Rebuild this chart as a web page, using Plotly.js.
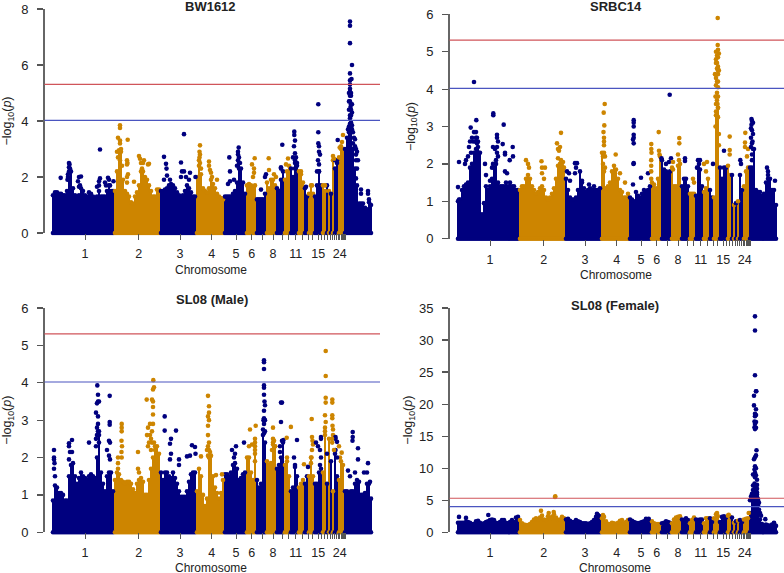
<!DOCTYPE html>
<html><head><meta charset="utf-8">
<script src="https://cdn.plot.ly/plotly-3.0.1.min.js"></script>
<style>html,body{margin:0;padding:0;background:#fff}#c{width:784px;height:573px}</style>
</head><body><div id="c"></div>
<script>
const panelTitles = ["BW1612","SRBC14","SL08 (Male)","SL08 (Female)"];
const yMax = [8,6,6,35];
const yTicks = [[0,2,4,6,8],[0,1,2,3,4,5,6],[0,1,2,3,4,5,6],[0,5,10,15,20,25,30,35]];
const labelledChromTicks = [33,86.7,128,159.7,184,199.7,221,243.7,266.3,287.7];
const labelledChromText = ["1","2","3","4","5","6","8","11","15","24"];
const otherChromTicks = [210.7,230,236.7,250,256,260.7,269.5,272.5,275.5,278,280.5,282.5,284,286,289,290,291,292,293];
const bandEnds = [62,109,144,173,194,204,215,225,232,239,246,253,257,262,270,274,277,279,280,283,286,293,320];
const suggestive = 4.02, genomewide = 5.31;

const bwSolid = [
1.35,1.45,1.45,1.4,1.4,1.35,1.35,1.5,1.9,2.2,1.6,1.35,1.3,1.35,1.6,1.5,1.35,1.3,1.45,1.4,1.3,1.25,1.3,1.5,1.3,1.3,1.3,1.5,1.7,1.5,1.5,
1.5,2.2,2.9,3.0,1.9,1.5,1.4,1.3,1.1,1.05,1.3,1.45,1.7,2.2,2.2,2.0,1.9,1.7,1.5,1.3,1.3,1.55,1.55,1.5,
1.5,1.55,1.6,1.7,1.75,1.7,1.6,1.45,1.35,1.3,1.35,1.5,1.7,1.6,1.45,1.3,1.3,
2.0,2.6,2.1,1.6,1.5,1.45,1.6,1.9,1.75,1.6,1.4,1.3,1.25,1.2,1.3,
1.3,1.3,1.3,1.4,1.5,1.8,2.5,2.3,1.8,1.4,
1.7,1.75,1.7,1.6,1.7,
1.2,1.2,1.2,1.2,1.4,1.8,
1.6,1.9,1.9,1.7,1.6,
1.5,1.9,2.2,1.9,
2.2,2.4,2.3,
2.0,2.6,2.4,2.2,
2.1,1.8,1.6,
1.3,1.4,
1.7,1.4,
1.3,1.7,2.2,1.7,
1.7,1.5,1.7,1.5,1.4,2.6,2.3,2.6,2.7,3.0,3.0,
3.0,3.4,3.6,3.6,3.0,2.3,1.7,1.05,1.05,1.05,0.9,0.85,1.1,1.0];
const bwSpikes = [[17,2.5],[17.5,2.45],[17,2.35],[18,2.3],[17,2.2],[16,2.1],[8.7,1.97],[16,2.0],[15.5,1.9],[27,2.0],[29,2.02],[26,1.85],[28,1.7],[27,1.65],[48,2.98],[48,1.95],[47,1.85],[47,1.7],[45,1.65],[53,1.8],[56,1.97],[57,1.9],[54,1.7],[58,1.7],[61.5,1.85],
[68,3.85],[68,3.75],[66,3.4],[68,3.3],[68,3.2],[65,2.9],[75.7,3.33],[75,2.6],[75.5,2.5],[75,2.45],[75,2.0],[76,2.1],[75,1.8],[82,1.83],[87,2.75],[88,2.65],[89,2.5],[92,2.6],[91,2.5],[90,2.3],[97,2.47],[96,2.45],
[112,2.72],[114,2.47],[114.5,2.3],[115,2.05],[112,1.9],[118,1.9],[132,3.53],[129,2.52],[130,2.2],[132,2.2],[129,2.0],[134,2.0],[138,2.15],[137,1.9],[143.5,2.0],
[148,3.13],[147.5,2.9],[148,2.8],[147.5,2.7],[157,2.55],[157,2.4],[158,2.25],[159,2.15],[160,2.0],[165,1.9],
[177.3,2.7],[178,2.2],[178,1.85],[176,1.75],[182,1.9],[186.7,3.05],[186,2.9],[186,2.8],[187,2.7],
[202.7,2.67],[200,2.45],[202,2.3],[202,2.15],[201,2.0],[209,1.55],[214,2.1],[213,2.0],
[216.7,2.67],[217,2.25],[222,2.1],[224,2.0],[230.3,3.15],[229,2.35],[229,2.3],[236,2.66],[234,2.45],
[242.3,3.62],[242.3,3.5],[243,3.3],[242,3.1],[243,2.85],[244,2.7],[245,2.5],[249,2.2],[254,1.65],[260,1.7],
[266.3,4.6],[266.3,3.6],[266.3,3.2],[267,3.1],[268,2.8],[267,2.9],[266,2.6],[267,2.45],[273,1.7],
[285.7,3.32],[287.7,3.05],[289,3.1],[291,3.5],[290,3.25],[283,2.6],[281,2.75],[282,2.65],[285,2.5],
[298,7.55],[298,7.4],[298,6.78],[300,6.0],[298,5.7],[299.5,5.5],[298,5.45],[298,5.3],[298,5.15],[298,5.05],[298,4.9],[298,4.7],[299,4.6],[298.5,4.5],[299,4.4],[300,4.3],[298,4.2],[298,4.1],[299,3.95],[300,3.85],[299,3.75],[301,3.6],[303,3.35],[304,3.0],[305,2.9],[304,2.6],[305,2.3],[304,1.95],[309,1.55],[309,1.4],[316,1.5],[316,1.4],[317,1.2]];
const bwStacks = [[67,2.95],[66,2.7],[69,2.9],[68,2.6],[70,2.4],[147,2.4],[149,2.3],[148,2.5],[186,2.6],[185,2.4],[188,2.5],[187,2.3],[241,2.7],[243,2.5],[243,2.3],[267,2.2],[265,2.2],[297,3.8],[298,3.9],[300,3.7],[297,4.4],[299,4.2],[299,5.0],[297,5.0],[299,4.9],[297,4.7],[300,4.6],[296,3.7],[302,3.4],[301,3.2],[303,3.1],[304,2.8],[306,2.6]];

const srbcSolid = [
1.0,1.05,1.3,1.4,1.45,1.5,1.9,2.0,2.3,2.4,2.45,2.3,0.65,0.95,1.4,1.3,1.4,1.6,1.9,2.0,1.5,1.4,1.4,1.4,1.5,1.4,1.5,1.4,1.4,1.3,1.3,
1.3,1.4,1.4,1.6,1.7,1.6,1.4,1.3,1.2,1.25,1.35,1.4,1.3,1.1,1.05,1.1,1.2,1.35,1.6,1.95,2.0,1.95,1.9,1.6,
1.3,1.1,1.05,1.05,1.1,1.3,1.8,1.5,1.35,1.25,1.3,1.35,1.3,1.4,1.3,1.3,1.35,
2.3,1.8,1.35,1.4,1.5,1.8,1.95,1.85,1.6,1.3,1.25,1.1,1.1,1.2,1.1,
1.05,1.0,1.25,1.15,1.1,1.2,1.3,1.25,1.3,1.4,
1.5,1.45,1.35,1.6,2.2,
2.1,1.85,1.8,1.75,1.8,1.9,
1.4,1.4,1.95,2.0,1.4,
1.6,1.6,1.4,1.2,
1.2,1.2,1.15,
1.9,1.85,1.4,1.25,
1.35,1.6,1.3,
1.1,1.1,
3.3,3.5,
1.9,1.6,1.9,1.9,
1.95,1.7,1.7,0.9,0.95,1.0,1.7,1.3,1.4,1.8,1.9,
1.9,1.9,2.4,1.3,1.25,1.25,1.15,1.2,1.5,1.6,1.6,1.3,1.3,0.9];
const srbcSpikes = [[2,2.05],[1,1.38],[2,1.05],[17,4.19],[19.3,3.17],[13.7,2.97],[17,2.85],[19,2.85],[15,2.7],[13,2.6],[19,2.7],[20,2.55],[12,2.45],[11,2.2],[9,2.1],[8,2.0],
[36.3,3.35],[36.3,3.3],[40,2.78],[40,2.7],[41,2.6],[36,2.45],[40,2.45],[38,2.4],[40,2.3],[45.7,2.53],[46.7,3.05],[48,2.3],[48,2.25],[52.7,2.1],[55.7,2.45],[56,2.2],[48,1.8],[50,1.75],[28,2.0],[29,1.7],[33,1.55],[36,2.0],[35,1.9],
[69,2.1],[71,2.0],[72,1.9],[84.5,2.07],[85,1.9],[88,1.9],[85,1.75],[87,1.6],[100,2.55],[104,2.83],[103,2.45],[102,2.35],[101,2.4],[106,2.05],[110,1.8],
[112,1.75],[113,1.55],[118,2.02],[120,2.02],[119,1.9],[118,1.75],[125,1.55],[132,1.45],
[147.7,3.6],[146.7,3.37],[147.3,3.03],[146.5,2.85],[147,2.7],[147,2.6],[147,2.5],[158.7,2.25],[163,1.75],[168,1.5],
[176.7,3.17],[176.7,3.1],[176.7,3.0],[176.7,2.78],[176.7,2.7],[176,2.65],[176.7,2.55],[176.7,2.02],[176.5,2.0],[176,1.45],[184,1.63],[191,1.75],
[194.3,2.53],[194.3,2.4],[194.5,2.3],[194.2,2.1],[194.2,1.95],[194.2,1.8],[194.2,1.6],[201.7,2.85],[202,2.35],[202.5,2.25],
[212.7,3.85],[204.5,2.15],[214,2.15],[212,2.05],[209,2.0],[222.3,2.69],[222.3,2.55],[221,2.25],[222,2.1],[216,2.05],[216,1.85],[228,2.15],[228,2.08],[236,1.6],[237,1.5],[240,1.9],[241,2.1],[242,2.0],[243,2.1],[247,2.0],[250,2.05],[249,1.8],
[260.7,5.9],[260.7,5.18],[261,5.05],[261.9,4.95],[261,4.85],[259,4.8],[259,4.7],[260,4.55],[261.9,4.5],[261,4.4],[259,4.3],[260,4.2],[261,4.05],[260,3.9],[260,3.7],[261,3.5],[261.9,2.8],[261.9,2.5],
[267,2.35],[272.7,2.73],[272.7,2.37],[272.7,2.25],[256,2.0],[283.3,2.1],[284,2.0],[288.3,2.83],[288,2.57],[288,2.45],[291,2.4],[290,2.2],
[294.5,3.2],[295,3.15],[294.5,3.05],[295,2.9],[294,2.7],[295,2.55],[294,2.45],[295,2.25],[295,2.1],[310,1.9],[311,1.8],[311,1.7],[318,1.55]];
const srbcStacks = [[259,5.0],[260,4.9],[260,4.7],[261,4.6],[261,4.5],[258,4.4],[259,4.1],[261,4.2],[261,3.8],[259,3.6],[258.5,3.8],[260.5,3.6],[259,3.4],[261,3.25],[258.5,3.0],[260,3.3],[147,2.3],[148,2.2],[146,2.2],[146,2.0],[148,1.9],[294,2.95],[296,3.1],[296,2.8],[295.5,2.6],[296,2.4],[14,2.3],[16,2.6],[18,2.6],[20,2.7],[21,2.6],[22,2.3],[39,2.1],[41,2.2],[101,2.15],[104,2.1]];

const maleSolid = [
0.85,1.25,1.2,1.05,1.05,1.0,0.85,0.85,1.5,1.8,1.85,1.5,1.3,1.45,1.6,1.5,1.45,1.4,1.5,1.55,1.5,1.45,2.0,2.6,1.6,1.3,1.1,1.5,1.6,1.6,1.1,
1.4,1.6,1.55,1.4,1.35,1.3,1.35,1.35,1.3,1.15,1.05,1.3,1.4,1.45,1.35,1.0,1.0,1.4,1.7,2.0,2.2,2.3,2.1,1.6,
1.4,1.6,1.6,1.5,1.45,1.6,1.45,1.3,1.1,0.95,0.95,0.95,1.1,1.35,1.55,1.6,1.6,
1.1,1.7,1.5,1.0,0.7,0.9,2.0,2.05,1.5,1.2,1.05,0.9,1.05,1.4,1.55,
1.55,1.5,1.6,1.8,1.85,1.7,1.4,1.45,1.55,1.6,
2.0,2.0,1.6,1.4,2.2,
1.4,1.2,1.3,2.6,2.4,1.9,
1.8,1.85,2.4,2.3,1.7,
1.8,2.0,2.4,1.8,
1.9,1.5,1.1,
1.2,1.75,1.5,1.2,
1.3,1.4,1.3,
1.5,1.5,
2.0,1.5,
1.3,1.3,1.6,1.7,
1.6,2.7,1.3,2.5,1.9,1.1,2.1,1.5,1.4,1.9,1.8,
1.1,1.1,1.05,1.1,1.1,1.3,1.4,1.35,1.0,1.0,1.05,1.3,1.3,0.9];
const maleSpikes = [[2,2.2],[2,2.0],[2,1.95],[2.5,1.85],[2,1.7],[3,1.5],[17,2.38],[17,2.3],[20,2.47],[18,2.15],[20,2.15],[17,1.95],[37,2.4],
[45.3,3.93],[46,3.68],[46,3.5],[45,3.45],[47,3.5],[44,3.2],[46,3.1],[46,2.9],[45,2.8],[46,2.7],[46,2.6],[57.7,3.65],[57.7,2.95],[57.7,2.88],[57,2.45],[58,2.4],[55,2.2],[57,2.05],[58,1.95],
[69.7,2.9],[69.7,2.8],[69.7,2.7],[69.5,2.45],[70,2.3],[69.5,2.15],[69.7,2.0],[66,2.0],[66,1.85],[66,1.7],[86,2.15],[86,1.7],[87,1.6],
[94.7,3.55],[101.3,4.07],[102,3.88],[101,3.82],[100,3.55],[101,3.5],[101,3.35],[101,3.15],[98,2.9],[101,2.9],[96,2.8],[95,2.6],[99,2.5],[104,1.93],[100,2.7],
[112.7,3.1],[112.7,2.72],[119,2.5],[118,2.37],[119,2.1],[124,2.72],[118,1.95],[127,1.95],[127,1.8],[135,2.03],[138,2.05],[140,2.33],[143,2.28],[143.5,2.1],
[149,2.03],[156,3.65],[157,3.37],[157,3.2],[156,3.1],[157,3.0],[156,2.85],[156,2.6],[157,2.4],[156,2.3],[158,2.15],[164,1.53],[170,1.55],
[180,2.2],[184,2.3],[183,2.1],[182,2.0],[192,2.4],[197,2.3],[200,2.35],[198,2.75],[203.7,2.85],[203,2.5],[203,2.4],[203,2.3],[203,2.1],[203,1.9],
[212,4.6],[212,4.55],[212,4.37],[212,3.93],[212,3.87],[212,3.68],[212.5,3.5],[213,3.4],[212,3.25],[212,3.05],[212,2.9],
[221,2.8],[221,2.5],[222,2.45],[229,3.47],[230,3.47],[229,2.95],[230,2.45],[231.5,2.47],[228,2.3],[228,2.15],[234.7,2.53],[235,2.0],[238.9,2.82],[245,2.47],[242,2.0],[243,1.8],[252,1.82],[256,1.75],
[259.7,3.03],[260,2.55],[260.5,2.45],[261,2.35],[260,2.2],[259.5,2.0],[259,1.85],[264,2.4],[269,2.5],[269,2.55],[266,2.3],[268,2.2],[269,2.0],[268,1.8],
[273.7,4.85],[273.7,4.18],[273.7,3.6],[273.7,3.47],[273,3.13],[273.7,2.95],[273,2.8],[280.3,3.55],[280.3,3.47],[280.3,3.13],[280.3,3.05],[280.5,2.85],[281,2.75],[281,2.6],[280.2,2.4],
[283.5,2.55],[283.5,2.5],[285,2.42],[283.5,2.2],[287,2.3],[289.7,2.13],[288,2.0],[285,2.0],
[300.7,2.68],[300.7,2.55],[300.5,2.45],[306,2.25],[306,1.95],[316,1.85],[312,1.6],[315,1.6],[296,1.65],[298,1.5],[303,1.6],[318,1.35]];
const maleStacks = [[45,2.6],[47,2.7],[44,2.5],[47,2.4],[44,2.3],[98,2.6],[100,2.4],[102,2.4],[97,2.4],[103,2.3],[96,2.3],[99,2.2],[155,2.2],[157,2.2],[156,2.05],[158,2.0],[211,2.75],[213,2.7],[212,2.65],[211.5,3.0],[213,3.0],[221,2.35],[223,2.3],[220,2.2],[273,2.6],[275.0,2.1],[280,2.5],[282,2.2]];

const femaleSolid = [
1.5,1.5,1.5,1.5,1.6,1.6,1.5,1.3,1.3,1.7,1.8,1.5,1.3,1.4,1.6,1.7,1.9,2.0,1.9,1.5,1.4,1.6,1.9,1.9,1.5,1.4,1.6,1.9,1.6,2.3,2.4,
1.9,1.4,1.2,1.15,1.15,1.3,1.6,2.0,2.2,2.0,2.3,2.6,2.0,1.9,2.5,2.2,2.4,2.8,2.3,1.9,2.0,2.4,2.2,2.0,
2.1,1.8,1.6,1.6,1.9,1.7,1.6,1.4,1.4,1.4,1.3,1.4,1.6,1.9,2.4,2.7,2.5,
2.2,2.4,1.7,1.3,1.3,1.5,1.4,1.3,1.5,1.8,1.9,1.4,1.6,1.9,2.0,
1.8,1.6,1.5,1.4,1.5,1.6,1.7,2.1,2.0,1.6,
1.7,1.4,1.3,1.3,1.3,
1.4,1.5,1.7,1.6,1.5,1.4,
2.0,2.3,2.4,2.5,2.0,
1.9,2.2,1.9,1.4,
1.9,2.3,2.0,
1.9,2.0,2.0,1.4,
2.2,2.2,2.2,
1.6,2.2,
2.8,2.5,
1.6,2.4,2.5,2.3,
2.6,2.4,2.3,1.5,1.7,1.8,1.9,1.6,2.0,2.1,2.2,
3.0,5.0,6.5,6.0,5.0,2.0,1.3,1.1,1.2,1.1,1.0,1.2,1.4,1.0];
const femaleSpikes = [[2,2.4],[9,2.25],[31.3,2.7],[84,3.35],[91.7,3.0],[96.7,3.15],[98.3,5.6],[98,5.5],[140,2.9],[146,2.7],[191.7,2.1],[260,3.0],[271.7,2.75],[291.7,3.0],
[298,33.7],[298,31.5],[298,24.5],[299,22],[299.3,22],[297,21.3],[297,19.8],[299,19.2],[298,18.5],[299,18.3],[298,18.1],[297.5,17.3],[299,17.2],[298,16.9],[297.5,16.4],[299,16.3],[298,16.1],[299.5,12.8],[299,12.0],[298,11.7],[297,11.4],[298,10.3],[299,10],[297.5,9.8],[299,8.9],[298,8.6],[300,8.2],[297.5,7.6],[296,7.3],[299,7.2],[300,6.8],[297,6.5],[299,6.4],[300,6.2],[295,6.0],[296,5.6],[300,5.5],[301,4.2],[302,3.5],[303,3.0],[304,2.6],[308.3,2.05],[317,1.5]];
const femaleStacks = [[296,9.0],[298,9.3],[298,7.0],[300,7.4],[300,5.9],[301,5.2],[302,4.6],[293,5.0],[294,5.6],[296,6.6],[299,6.8]];

const NAVY="#00007f", ORANGE="#cd8500", MS=4.6;
const W=784,H=573;
const boxes=[{l:44.5,r:380,t:9,b:233,xmax:328},{l:449.5,r:784,t:14.3,b:238.7,xmax:327},{l:44.5,r:380,t:308,b:532.3,xmax:328},{l:449.5,r:784,t:308,b:532.3,xmax:327}];
const titleY=[6,6,299,305], titleX=[211,616,211.7,615], yTitleStandoff=[9,8,9,3];
const xTitleY=[269.5,275,568,568], xTitleX=[211,615.5,211,615];
const solids=[bwSolid,srbcSolid,maleSolid,femaleSolid];
const spikes=[bwSpikes.concat(bwStacks),srbcSpikes.concat(srbcStacks),maleSpikes.concat(maleStacks),femaleSpikes.concat(femaleStacks)];
function bandColor(u){for(let i=0;i<bandEnds.length;i++){if(u<bandEnds[i])return i%2?ORANGE:NAVY;}return NAVY;}

const data=[],layout={width:W,height:H,margin:{l:0,r:0,t:0,b:0},paper_bgcolor:"#fff",plot_bgcolor:"#fff",showlegend:false,barmode:"overlay",bargap:0,hovermode:false,
  font:{family:"Liberation Sans, Arial, sans-serif",size:13,color:"#222"},annotations:[],shapes:[]};
solids.forEach((vals,p)=>{
  const n=p+1, xa=p?"x"+n:"x", ya=p?"y"+n:"y", xk=p?"xaxis"+n:"xaxis", yk=p?"yaxis"+n:"yaxis", b=boxes[p];
  const xs=vals.map((_,i)=>1+2*i), cols=xs.map(bandColor);
  data.push({type:"bar",x:xs,y:vals,width:xs.map(()=>2.05),marker:{color:cols,line:{width:0}},xaxis:xa,yaxis:ya});
  const m=(x,y,c)=>({type:"scatter",mode:"markers",x,y,marker:{color:c,size:MS,line:{width:0}},xaxis:xa,yaxis:ya,cliponaxis:false});
  data.push(m(xs,xs.map(()=>0),cols));
  data.push(m(xs,vals,cols));
  data.push(m(spikes[p].map(d=>d[0]),spikes[p].map(d=>d[1]),spikes[p].map(d=>bandColor(d[0]))));
  layout[xk]={domain:[b.l/W,b.r/W],range:[-7.5,b.xmax],anchor:ya,showline:false,showgrid:false,zeroline:false,
    tickmode:"array",tickvals:labelledChromTicks,ticktext:labelledChromText,ticks:"outside",ticklen:6,tickwidth:1,tickcolor:"#555",ticklabelstandoff:3,
    minor:{tickmode:"array",tickvals:otherChromTicks,ticks:"outside",ticklen:6,tickwidth:1,tickcolor:"#555",showgrid:false},
    tickfont:{size:12.5,color:"#222"}};
  layout[yk]={domain:[1-b.b/H,1-b.t/H],range:[0,yMax[p]],anchor:xa,showline:true,linecolor:"#666",linewidth:1.5,showgrid:false,zeroline:false,
    tickmode:"array",tickvals:yTicks[p],ticktext:yTicks[p].map(String),ticks:"outside",ticklen:6,tickwidth:1.2,tickcolor:"#555",ticklabelstandoff:6,
    tickfont:{size:13,color:"#222"},title:{text:"\u2212log<sub>10</sub>(<i>p</i>)",font:{size:12.5,color:"#222"},standoff:yTitleStandoff[p]}};
  [[genomewide,"#d0555a"],[suggestive,"#4a55c0"]].forEach(([v,c])=>layout.shapes.push({type:"line",xref:xa+" domain",yref:ya,x0:0,x1:1,y0:v,y1:v,line:{color:c,width:1.2},layer:"above"}));
  layout.annotations.push({xref:"paper",yref:"paper",x:titleX[p]/W,y:1-titleY[p]/H,text:"<b>"+panelTitles[p]+"</b>",showarrow:false,xanchor:"center",yanchor:"middle",font:{size:13,color:"#222"}});
  layout.annotations.push({xref:"paper",yref:"paper",x:xTitleX[p]/W,y:1-xTitleY[p]/H,text:"Chromosome",showarrow:false,xanchor:"center",yanchor:"middle",font:{size:12,color:"#222"}});
});
Plotly.newPlot("c",data,layout,{staticPlot:true,displayModeBar:false});
</script></body></html>
